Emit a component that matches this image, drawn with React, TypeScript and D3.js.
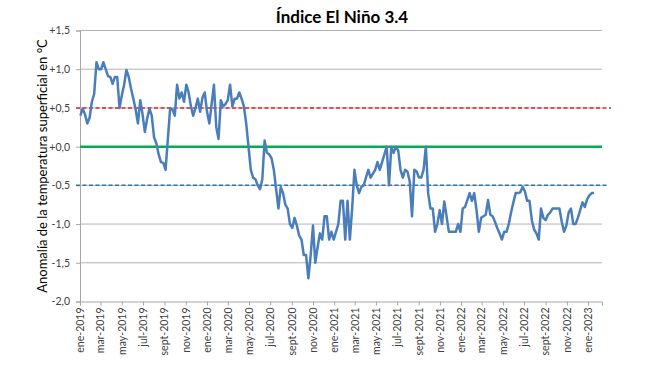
import { useRef, useEffect } from "react";
import * as d3 from "d3";

// weekly Niño 3.4 anomaly (°C)
const anomalies = [
  0.4, 0.49, 0.42, 0.3, 0.37, 0.58, 0.68, 1.09, 1.0, 1.0,
  1.09, 1.0, 0.91, 0.9, 0.81, 0.9, 0.9, 0.5, 0.66, 0.8,
  0.99, 0.9, 0.75, 0.62, 0.48, 0.3, 0.6, 0.42, 0.19, 0.36,
  0.49, 0.4, 0.12, 0.04, -0.1, -0.2, -0.21, -0.3, 0.1, 0.5,
  0.48, 0.4, 0.8, 0.62, 0.7, 0.58, 0.8, 0.7, 0.52, 0.4,
  0.5, 0.62, 0.45, 0.63, 0.7, 0.45, 0.3, 0.55, 0.8, 0.25,
  0.1, 0.6, 0.52, 0.55, 0.6, 0.8, 0.52, 0.62, 0.62, 0.7,
  0.62, 0.52, 0.3, 0.0, -0.3, -0.4, -0.42, -0.5, -0.55, -0.42,
  0.08, -0.08, -0.1, -0.15, -0.3, -0.55, -0.8, -0.52, -0.6, -0.75,
  -0.8, -1.0, -1.05, -0.92, -1.02, -1.15, -1.2, -1.4, -1.4, -1.7,
  -1.4, -1.02, -1.5, -1.3, -1.12, -1.2, -0.9, -0.9, -1.2, -1.1,
  -1.2, -1.1, -1.0, -0.7, -0.7, -1.2, -0.7, -1.2, -0.8, -0.3,
  -0.5, -0.6, -0.52, -0.5, -0.4, -0.3, -0.4, -0.35, -0.3, -0.2,
  -0.3, -0.2, -0.1, 0.0, -0.5, 0.0, -0.08, 0.0, -0.05, -0.3,
  -0.4, -0.3, -0.32, -0.45, -0.9, -0.3, -0.32, -0.4, -0.4, -0.3,
  0.0, -0.6, -0.8, -0.8, -1.1, -1.0, -0.82, -1.0, -0.71, -0.9,
  -1.1, -1.1, -1.1, -1.1, -1.0, -1.1, -0.8, -0.78, -0.69, -0.6,
  -0.7, -0.6, -0.82, -1.1, -0.92, -0.9, -0.88, -0.69, -0.88, -0.9,
  -0.97, -1.05, -1.12, -1.2, -1.1, -1.1, -1.0, -0.85, -0.72, -0.6,
  -0.6, -0.59, -0.52, -0.58, -0.7, -0.7, -0.95, -1.07, -1.12, -1.2,
  -0.8, -0.92, -0.95, -0.88, -0.85, -0.8, -0.8, -0.8, -0.8, -0.97,
  -1.1, -1.02, -0.85, -0.8, -1.0, -1.0, -0.92, -0.82, -0.72, -0.78,
  -0.68, -0.63, -0.6, -0.6,
];

const yTicks = [1.5, 1.0, 0.5, 0.0, -0.5, -1.0, -1.5, -2.0];
const monthNames = ["ene", "feb", "mar", "abr", "may", "jun", "jul", "ago", "sept", "oct", "nov", "dic"];

// reference lines: El Niño / neutral / La Niña thresholds
const thresholds = [
  { value: 0.5, color: "#e3262b", dash: "4,2.5", width: 1.5, x0: 76, x1: 611 },
  { value: 0.0, color: "#00b050", dash: null, width: 2.5, x0: 80, x1: 602 },
  { value: -0.5, color: "#2e75b6", dash: "4,2.5", width: 1.5, x0: 76, x1: 608 },
];

const axisStart = new Date(2019, 0, 1);
const axisEnd = new Date(2023, 1, 10);
const firstWeek = new Date(2019, 0, 2);
const lastWeek = new Date(2023, 0, 18);

export default function App() {
  const svgRef = useRef<SVGSVGElement>(null);
  const width = 660;
  const height = 366;

  useEffect(() => {
    const svg = d3.select(svgRef.current);
    svg.selectAll("*").remove();

    const left = 80;
    const right = 602;
    const top = 30.5;
    const bottom = 301.5;

    const x = d3.scaleTime().domain([axisStart, axisEnd]).range([left, right]);
    const xi = d3
      .scaleLinear()
      .domain([0, anomalies.length - 1])
      .range([x(firstWeek), x(lastWeek)]);
    const y = d3.scaleLinear().domain([-2, 1.5]).range([bottom, top]);

    const font = "Lato, 'Open Sans', sans-serif";

    // gridlines
    svg
      .append("g")
      .selectAll("line")
      .data(yTicks.filter((t) => t > -2))
      .join("line")
      .attr("x1", left)
      .attr("x2", right)
      .attr("y1", (d) => y(d))
      .attr("y2", (d) => y(d))
      .attr("stroke", "#b3b3b3")
      .attr("stroke-width", 1);

    // y axis
    const fmt = (v: number) =>
      (v >= 0 ? "+" : "-") + Math.abs(v).toFixed(1).replace(".", ",");
    const yAxis = svg
      .append("g")
      .attr("transform", `translate(${left},0)`)
      .call(
        d3
          .axisLeft(y)
          .tickValues(yTicks)
          .tickSize(4)
          .tickPadding(6)
          .tickFormat((d) => fmt(d as number))
      );
    yAxis.select(".domain").attr("stroke", "#a6a6a6");
    yAxis.selectAll(".tick line").attr("stroke", "#a6a6a6");
    yAxis
      .selectAll("text")
      .attr("fill", "#404040")
      .attr("font-family", font)
      .attr("font-size", 10.5);

    // x axis
    const months = d3.timeMonth.every(2)!.range(axisStart, new Date(2023, 0, 2));
    const xAxis = svg
      .append("g")
      .attr("transform", `translate(0,${bottom})`)
      .call(d3.axisBottom(x).tickValues(months).tickSize(4).tickFormat(() => ""));
    xAxis.select(".domain").attr("stroke", "#a6a6a6");
    xAxis.selectAll(".tick line").attr("stroke", "#a6a6a6");

    svg
      .append("g")
      .selectAll("text")
      .data(months)
      .join("text")
      .attr("transform", (d) => `translate(${x(d) + 3.8},${bottom + 6}) rotate(-90)`)
      .attr("text-anchor", "end")
      .attr("fill", "#404040")
      .attr("font-family", font)
      .attr("font-size", 10.5)
      .text((d) => `${monthNames[d.getMonth()]}-${d.getFullYear()}`);

    // threshold lines
    svg
      .append("g")
      .selectAll("line")
      .data(thresholds)
      .join("line")
      .attr("x1", (d) => d.x0)
      .attr("x2", (d) => d.x1)
      .attr("y1", (d) => y(d.value))
      .attr("y2", (d) => y(d.value))
      .attr("stroke", (d) => d.color)
      .attr("stroke-width", (d) => d.width)
      .attr("stroke-dasharray", (d) => d.dash);

    // series line
    const line = d3
      .line<number>()
      .x((_, i) => xi(i))
      .y((d) => y(d));
    svg
      .append("path")
      .datum(anomalies)
      .attr("d", line)
      .attr("fill", "none")
      .attr("stroke", "#4a7ebb")
      .attr("stroke-width", 2.5)
      .attr("stroke-linejoin", "round");

    // title
    svg
      .append("text")
      .attr("x", 342)
      .attr("y", 23)
      .attr("text-anchor", "middle")
      .attr("font-family", font)
      .attr("font-weight", "bold")
      .attr("font-size", 17)
      .attr("fill", "#000")
      .text("Índice El Niño 3.4");

    // y axis title
    svg
      .append("text")
      .attr("transform", `translate(47,${(top + bottom) / 2}) rotate(-90)`)
      .attr("text-anchor", "middle")
      .attr("font-family", font)
      .attr("font-size", 13)
      .attr("fill", "#000")
      .text("Anomalía de la temperatura superficial en °C");
  }, []);

  return (
    <svg
      ref={svgRef}
      width={width}
      height={height}
      style={{ position: "absolute", left: 0, top: 0, background: "#fff" }}
    />
  );
}
